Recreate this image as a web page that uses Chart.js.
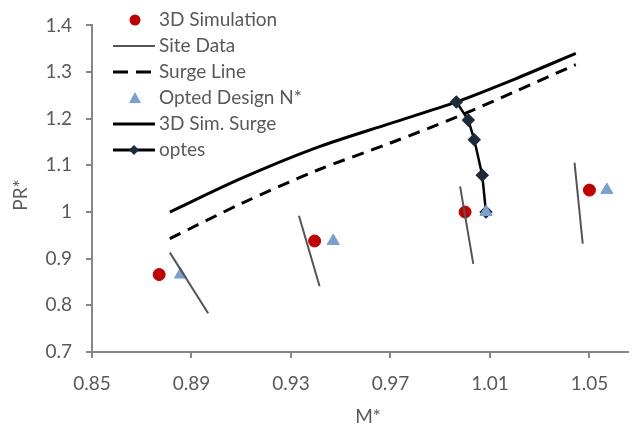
<!DOCTYPE html>
<html lang="en">
<head>
  <meta charset="UTF-8" />
  <title>PR* vs M*</title>
  <script src="https://cdn.jsdelivr.net/npm/chart.js"></script>
  <style>
    body { margin: 0; background: #fff; }
    #wrap { width: 636px; height: 432px; position: relative; }
  </style>
</head>
<body>
  <div id="wrap"><canvas id="chart"></canvas></div>

  <script>
    // --- values ---
    const xTicks = [0.85, 0.89, 0.93, 0.97, 1.01, 1.05];
    const yTicks = [0.7, 0.8, 0.9, 1.0, 1.1, 1.2, 1.3, 1.4];

    // 3D Simulation (red dots)
    const simX = [0.877, 0.9395, 1.0, 1.050];
    const simY = [0.866, 0.938, 1.0, 1.047];

    // Opted Design N* (blue triangles)
    const optX = [0.8856, 0.947, 1.0084, 1.057];
    const optY = [0.866, 0.938, 1.0, 1.047];

    // Site Data: four short grey segments [start, end]
    const siteX = [[0.8813, 0.8967], [0.9332, 0.9415], [0.998, 1.0033], [1.044, 1.0473]];
    const siteY = [[0.913, 0.783], [0.992, 0.841], [1.055, 0.889], [1.106, 0.932]];

    // Surge Line (dashed)
    const surgeX = [0.8813, 0.91, 0.9403, 0.97, 0.9977, 1.02, 1.0445];
    const surgeY = [0.943, 1.018, 1.089, 1.148, 1.206, 1.258, 1.316];

    // 3D Sim. Surge (thick solid)
    const simSurgeX = [0.8813, 0.91, 0.9403, 0.97, 0.9965, 1.02, 1.0445];
    const simSurgeY = [1.0, 1.072, 1.138, 1.19, 1.236, 1.285, 1.340];

    // optes (line with diamonds)
    const optesX = [0.9965, 1.0013, 1.0037, 1.0069, 1.0084];
    const optesY = [1.236, 1.197, 1.155, 1.079, 1.0];

    const pts = (xs, ys) => xs.map((x, i) => ({ x: x, y: ys[i] }));

    // segments joined with a gap point so they are not connected
    const sitePts = [];
    siteX.forEach((seg, i) => {
      sitePts.push({ x: seg[0], y: siteY[i][0] }, { x: seg[1], y: siteY[i][1] });
      if (i < siteX.length - 1) sitePts.push({ x: seg[1], y: null });
    });

    const AXIS = '#868686';
    const TEXT = '#595959';

    Chart.defaults.font.family = 'Lato, "Open Sans", sans-serif';
    Chart.defaults.font.size = 19;
    Chart.defaults.color = TEXT;

    // small legend drawn inside the plot, plus the two axis titles
    const extras = {
      id: 'extras',
      afterDraw(chart) {
        const ctx = chart.ctx;
        ctx.save();
        ctx.font = '19px Lato, "Open Sans", sans-serif';
        ctx.fillStyle = TEXT;
        ctx.textBaseline = 'middle';
        const rows = [
          { label: '3D Simulation', kind: 'dot' },
          { label: 'Site Data', kind: 'site' },
          { label: 'Surge Line', kind: 'dash' },
          { label: 'Opted Design N*', kind: 'tri' },
          { label: '3D Sim. Surge', kind: 'solid' },
          { label: 'optes', kind: 'diamond' }
        ];
        const x0 = 113, x1 = 155, tx = 159;
        rows.forEach((r, i) => {
          const y = 20 + i * 26;
          ctx.save();
          if (r.kind === 'dot') {
            ctx.fillStyle = '#c00000';
            ctx.beginPath(); ctx.arc(135, y, 5.5, 0, Math.PI * 2); ctx.fill();
          } else if (r.kind === 'tri') {
            ctx.fillStyle = '#7b9fcf';
            ctx.beginPath(); ctx.moveTo(135, y - 6); ctx.lineTo(141, y + 5); ctx.lineTo(129, y + 5); ctx.closePath(); ctx.fill();
          } else {
            ctx.strokeStyle = r.kind === 'site' ? '#555' : '#000';
            ctx.lineWidth = r.kind === 'site' ? 2 : 3;
            if (r.kind === 'dash') ctx.setLineDash([15, 8]);
            ctx.beginPath(); ctx.moveTo(x0, y); ctx.lineTo(x1, y); ctx.stroke();
            if (r.kind === 'diamond') {
              ctx.fillStyle = '#1f2a3a';
              ctx.beginPath(); ctx.moveTo(134, y - 5); ctx.lineTo(139, y); ctx.lineTo(134, y + 5); ctx.lineTo(129, y); ctx.closePath(); ctx.fill();
            }
          }
          ctx.restore();
          ctx.textAlign = 'left';
          ctx.fillText(r.label, tx, y);
        });
        // axis titles
        ctx.textAlign = 'center';
        ctx.fillText('M*', 368, 417);
        ctx.translate(21, 195);
        ctx.rotate(-Math.PI / 2);
        ctx.fillText('PR*', 0, 0);
        ctx.restore();
      }
    };

    new Chart(document.getElementById('chart'), {
      type: 'scatter',
      data: {
        datasets: [
          {
            label: 'Site Data', data: sitePts, showLine: true, spanGaps: false,
            borderColor: '#555', borderWidth: 2, pointRadius: 0, order: 0
          },
          {
            label: 'Opted Design N*', data: pts(optX, optY),
            pointStyle: 'triangle', pointRadius: 7,
            pointBackgroundColor: '#7b9fcf', pointBorderColor: '#7b9fcf', order: 1
          },
          {
            label: 'optes', data: pts(optesX, optesY), showLine: true,
            borderColor: '#000', borderWidth: 2.5, pointStyle: 'rectRot', pointRadius: 5,
            pointBackgroundColor: '#1f2a3a', pointBorderColor: '#1f2a3a', order: 2
          },
          {
            label: '3D Simulation', data: pts(simX, simY),
            pointStyle: 'circle', pointRadius: 6,
            pointBackgroundColor: '#c00000', pointBorderColor: '#c00000', order: 3
          },
          {
            label: '3D Sim. Surge', data: pts(simSurgeX, simSurgeY), showLine: true,
            borderColor: '#000', borderWidth: 3, pointRadius: 0, tension: 0.3, order: 4
          },
          {
            label: 'Surge Line', data: pts(surgeX, surgeY), showLine: true,
            borderColor: '#000', borderWidth: 3, borderDash: [12, 8], pointRadius: 0, tension: 0.3, order: 5
          }
        ]
      },
      options: {
        responsive: true,
        maintainAspectRatio: false,
        animation: false,
        layout: { padding: { top: 22, right: 0, bottom: 0, left: 0 } },
        plugins: { legend: { display: false }, tooltip: { enabled: false } },
        scales: {
          x: {
            type: 'linear', min: 0.85, max: 1.0655,
            afterBuildTicks: s => { s.ticks = xTicks.map(v => ({ value: v })); },
            afterFit: s => { s.height = 80; },
            ticks: { padding: 14, callback: v => v.toFixed(2) },
            grid: { drawOnChartArea: false, color: AXIS, lineWidth: 2, tickLength: 6 },
            border: { color: AXIS, width: 2 }
          },
          y: {
            type: 'linear', min: 0.7, max: 1.4,
            afterBuildTicks: s => { s.ticks = yTicks.map(v => ({ value: v })); },
            afterFit: s => { s.width = 92; },
            ticks: { padding: 14, callback: v => String(+v.toFixed(1)) },
            grid: { drawOnChartArea: false, color: AXIS, lineWidth: 2, tickLength: 6 },
            border: { color: AXIS, width: 2 }
          }
        }
      },
      plugins: [extras]
    });
  </script>
</body>
</html>
